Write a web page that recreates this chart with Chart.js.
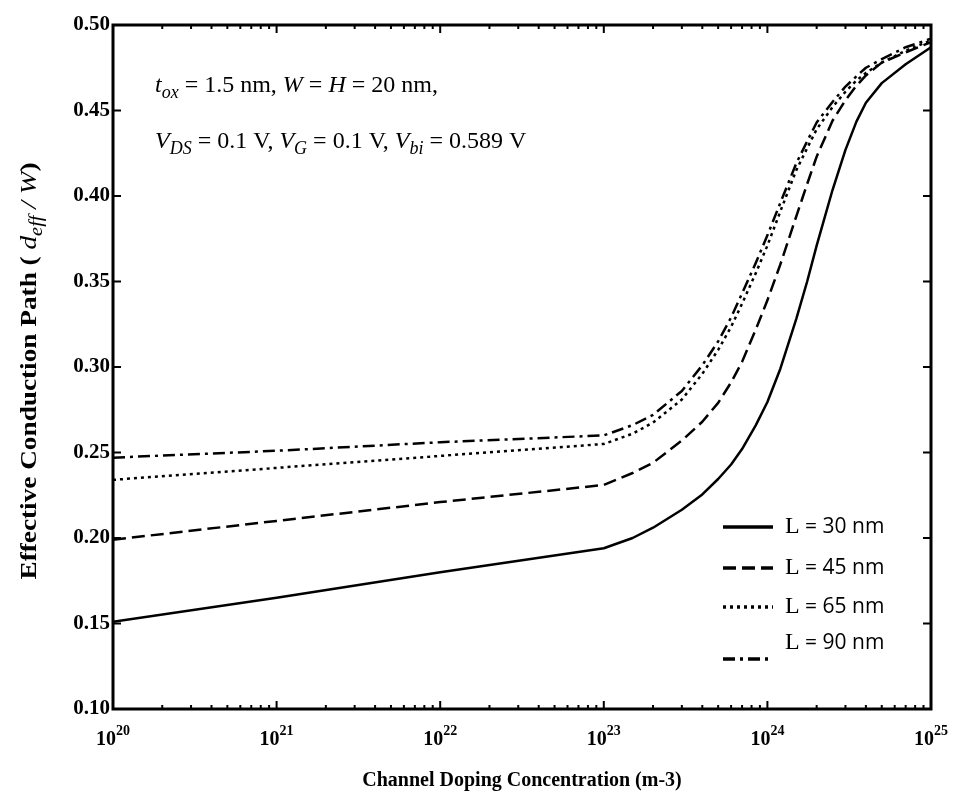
<!DOCTYPE html>
<html>
<head>
<meta charset="utf-8">
<script src="https://cdn.jsdelivr.net/npm/chart.js@4.4.1/dist/chart.umd.min.js"></script>
<style>
  html, body { margin: 0; padding: 0; background: #fff; }
  #wrap { width: 956px; height: 800px; }
</style>
</head>
<body>
<div id="wrap"><canvas id="pathChart" width="956" height="800"></canvas></div>
<script>
// valori
const dopingLevels = [1e20, 1e21, 1e22, 1e23, 1.5e23, 2e23, 3e23, 4e23, 5e23, 6e23, 7e23, 8.5e23,
  1e24, 1.2e24, 1.5e24, 1.75e24, 2e24, 2.5e24, 3e24, 3.5e24, 4e24, 5e24, 7e24, 1e25];
const path30 = [0.151, 0.165, 0.180, 0.194, 0.200, 0.206, 0.2165, 0.2255, 0.2345, 0.243, 0.252, 0.266,
  0.2795, 0.299, 0.328, 0.350, 0.371, 0.4035, 0.427, 0.4435, 0.4545, 0.466, 0.477, 0.487];
const path45 = [0.199, 0.210, 0.221, 0.231, 0.238, 0.244, 0.257, 0.268, 0.279, 0.291, 0.303, 0.322,
  0.339, 0.360, 0.388, 0.407, 0.423, 0.444, 0.456, 0.4645, 0.4705, 0.478, 0.484, 0.490];
const path65 = [0.234, 0.241, 0.248, 0.255, 0.261, 0.2675, 0.281, 0.296, 0.310, 0.3235, 0.337, 0.355,
  0.371, 0.391, 0.415, 0.428, 0.439, 0.452, 0.461, 0.4675, 0.472, 0.478, 0.485, 0.491];
const path90 = [0.247, 0.251, 0.256, 0.260, 0.266, 0.272, 0.286, 0.301, 0.315, 0.329, 0.343, 0.361,
  0.377, 0.396, 0.419, 0.432, 0.443, 0.455, 0.464, 0.470, 0.475, 0.480, 0.487, 0.492];

const legendLabels = ['30 nm', '45 nm', '65 nm', '90 nm'];
const yTicks = [0.10, 0.15, 0.20, 0.25, 0.30, 0.35, 0.40, 0.45, 0.50];
const xExponents = [20, 21, 22, 23, 24, 25];

const dashes = [[], [13, 6], [3, 4], [12, 5, 3, 5]];

function toPoints(values) {
  return dopingLevels.map((x, i) => ({ x: x, y: values[i] }));
}

const serif = '"Liberation Serif", "Times New Roman", serif';

// disegna testo con pedici
function drawRich(ctx, parts, x, y, size) {
  let cx = x;
  parts.forEach(p => {
    const fs = p.sub ? size * 0.75 : size;
    ctx.font = (p.italic ? 'italic ' : '') + (p.bold ? 'bold ' : '') + fs + 'px ' + serif;
    ctx.fillText(p.t, cx, p.sub ? y + size * 0.25 : y);
    cx += ctx.measureText(p.t).width;
  });
  return cx - x;
}

const framePlugin = {
  id: 'frame',
  afterDraw(chart) {
    const ctx = chart.ctx;
    const area = chart.chartArea;
    const xs = chart.scales.x;
    const ys = chart.scales.y;
    ctx.save();
    ctx.strokeStyle = '#000';
    ctx.fillStyle = '#000';

    // tacche asse y
    ctx.lineWidth = 2;
    yTicks.forEach(v => {
      const py = ys.getPixelForValue(v);
      ctx.beginPath();
      ctx.moveTo(area.left, py); ctx.lineTo(area.left + 8, py);
      ctx.moveTo(area.right, py); ctx.lineTo(area.right - 8, py);
      ctx.stroke();
    });
    // tacche asse x (decadi + minori)
    xExponents.forEach((e, i) => {
      const px = xs.getPixelForValue(Math.pow(10, e));
      ctx.beginPath();
      ctx.moveTo(px, area.bottom); ctx.lineTo(px, area.bottom - 8);
      ctx.moveTo(px, area.top); ctx.lineTo(px, area.top + 8);
      ctx.stroke();
      if (i < xExponents.length - 1) {
        for (let m = 2; m <= 9; m++) {
          const mx = xs.getPixelForValue(m * Math.pow(10, e));
          ctx.beginPath();
          ctx.moveTo(mx, area.bottom); ctx.lineTo(mx, area.bottom - 4);
          ctx.moveTo(mx, area.top); ctx.lineTo(mx, area.top + 4);
          ctx.stroke();
        }
      }
    });

    // cornice
    ctx.lineWidth = 3;
    ctx.strokeRect(area.left, area.top, area.right - area.left, area.bottom - area.top);

    // etichette y
    ctx.font = 'bold 21px ' + serif;
    ctx.textAlign = 'right';
    ctx.textBaseline = 'middle';
    yTicks.forEach(v => {
      ctx.fillText(v.toFixed(2), area.left - 3, ys.getPixelForValue(v));
    });

    // etichette x: 10^n
    ctx.textBaseline = 'alphabetic';
    ctx.textAlign = 'left';
    xExponents.forEach(e => {
      const px = xs.getPixelForValue(Math.pow(10, e));
      ctx.font = 'bold 20px ' + serif;
      const wb = ctx.measureText('10').width;
      ctx.font = 'bold 14px ' + serif;
      const we = ctx.measureText(String(e)).width;
      const x0 = px - (wb + we) / 2;
      ctx.font = 'bold 20px ' + serif;
      ctx.fillText('10', x0, area.bottom + 36);
      ctx.font = 'bold 14px ' + serif;
      ctx.fillText(String(e), x0 + wb, area.bottom + 26);
    });

    // titolo asse x
    ctx.font = 'bold 20px ' + serif;
    ctx.textAlign = 'center';
    ctx.fillText('Channel Doping Concentration (m-3)', (area.left + area.right) / 2, 786);

    // titolo asse y (ruotato, allungato come nell'originale)
    ctx.save();
    ctx.textAlign = 'left';
    const yParts = [
      { t: 'Effective Conduction Path ( ', bold: true },
      { t: 'd', italic: true },
      { t: 'eff', italic: true, sub: true },
      { t: ' / ', italic: true },
      { t: 'W', italic: true },
      { t: ')', bold: true }
    ];
    ctx.globalAlpha = 0;
    const wy = drawRich(ctx, yParts, 0, 0, 24);
    ctx.globalAlpha = 1;
    const stretch = 417 / wy;
    ctx.translate(36, 371);
    ctx.rotate(-Math.PI / 2);
    ctx.scale(stretch, 1);
    drawRich(ctx, yParts, -wy / 2, 0, 24);
    ctx.restore();

    // annotazione parametri
    ctx.textAlign = 'left';
    drawRich(ctx, [
      { t: 't', italic: true }, { t: 'ox', italic: true, sub: true },
      { t: ' = 1.5 nm, ' }, { t: 'W', italic: true }, { t: ' = ' },
      { t: 'H', italic: true }, { t: ' = 20 nm,' }
    ], 155, 92, 24);
    drawRich(ctx, [
      { t: 'V', italic: true }, { t: 'DS', italic: true, sub: true },
      { t: ' = 0.1 V, ' }, { t: 'V', italic: true }, { t: 'G', italic: true, sub: true },
      { t: ' = 0.1 V, ' }, { t: 'V', italic: true }, { t: 'bi', italic: true, sub: true },
      { t: ' = 0.589 V' }
    ], 155, 148, 24);

    // legenda interna
    const rows = [527, 568, 607, 643];
    const sampleRows = [527, 568, 607, 659];
    ctx.textBaseline = 'middle';
    legendLabels.forEach((lab, i) => {
      const ds = chart.data.datasets[i];
      ctx.setLineDash(ds.borderDash);
      ctx.lineWidth = 3.5;
      ctx.beginPath();
      ctx.moveTo(723, sampleRows[i]);
      ctx.lineTo(773, sampleRows[i]);
      ctx.stroke();
      ctx.setLineDash([]);
      ctx.font = '24px ' + serif;
      ctx.fillText('L', 785, rows[i]);
      const wl = ctx.measureText('L').width;
      ctx.font = '21px "Open Sans", sans-serif';
      ctx.fillText(' = ' + lab, 785 + wl, rows[i]);
    });
    ctx.restore();
  }
};

const ctx = document.getElementById('pathChart').getContext('2d');

const pathChart = new Chart(ctx, {
  type: 'line',
  data: {
    datasets: [path30, path45, path65, path90].map((vals, i) => ({
      label: 'L = ' + legendLabels[i],
      data: toPoints(vals),
      borderColor: '#000',
      borderWidth: 2.5,
      borderDash: dashes[i],
      borderJoinStyle: 'round',
      pointRadius: 0,
      fill: false,
      tension: 0
    }))
  },
  options: {
    responsive: false,
    animation: false,
    layout: { padding: { left: 113, right: 25, top: 25, bottom: 91 } },
    plugins: { legend: { display: false }, tooltip: { enabled: false } },
    scales: {
      x: { type: 'logarithmic', min: 1e20, max: 1e25, display: false },
      y: { type: 'linear', min: 0.10, max: 0.50, display: false }
    }
  },
  plugins: [framePlugin]
});
</script>
</body>
</html>
